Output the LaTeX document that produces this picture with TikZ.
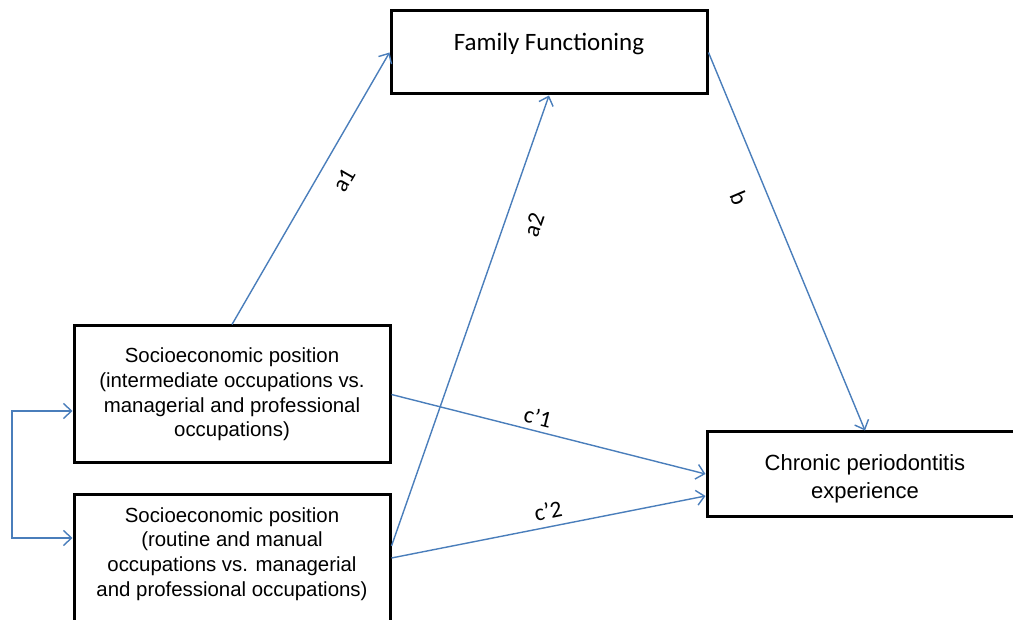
\documentclass[tikz,border=0pt]{standalone}
\usepackage{fontspec}
\setmainfont{Liberation Sans}
\newfontfamily\calibri{Carlito}
\usetikzlibrary{arrows.meta}
\definecolor{linkblue}{HTML}{4A7EBB}
\begin{document}
\begin{tikzpicture}[x=1pt,y=-1pt,
  box/.style={draw, line width=3pt, minimum width=316pt, inner sep=0pt},
  boxtxt/.style={align=center, inner sep=0pt, font=\fontsize{20.4}{24.7}\selectfont},
  barb/.tip={Straight Barb[length=8pt,width=15pt,line width=1.4pt]},
  link/.style={draw=linkblue, line width=1.4pt, -barb},
  lbl/.style={font=\calibri\fontsize{23.5}{27}\selectfont, inner sep=0pt}
]
\useasboundingbox (0,0) rectangle (1013,620);

% boxes
\node[box, minimum height=83pt] (ff) at (549,52.5) {};
\node[box, minimum height=137pt] (b1) at (232,394.5) {};
\node[box, minimum height=137pt] (b2) at (232,562.5) {};
\node[box, minimum height=84pt] (cp) at (865,474) {};

% texts
\node[inner sep=0pt, font=\calibri\fontsize{25}{30}\selectfont] (fft) at (549,44) {Family Functioning};
\node[boxtxt] (b1t) at (232,394.5) {Socioeconomic position\\(intermediate occupations vs.\\managerial and professional\\occupations)};
\node[boxtxt] (b2t) at (232,554) {Socioeconomic position\\(routine and manual\\occupations vs. managerial\\and professional occupations)};
\node[boxtxt, font=\fontsize{22}{28}\selectfont] (cpt) at (865,479) {Chronic periodontitis\\experience};

% connectors
\draw[link] (b1.north) -- (ff.west);
\draw[link] ([yshift=16.5pt]b2.east) -- (ff.south);
\draw[link] (ff.east) -- (cp.north);
\draw[link] (b1.east) -- (cp.west);
\draw[link] ([yshift=4.5pt]b2.east) -- ([yshift=-22pt]cp.west);
\coordinate (k1) at (12,411);
\coordinate (k2) at (12,538);
\draw[link, barb-barb] ([yshift=-16.5pt]b1.west) -- (k1) -- (k2) -- ([yshift=24.5pt]b2.west);

% labels
\node[lbl, rotate=60] (la1) at (344,180) {a1};
\node[lbl, rotate=71] (la2) at (534,225) {a2};
\node[lbl, rotate=-67] (lb) at (739,198) {b};
\node[lbl, rotate=-14] (lc1) at (538,417) {c’1};
\node[lbl, rotate=11.5] (lc2) at (548,511) {c’2};
\end{tikzpicture}
\end{document}
